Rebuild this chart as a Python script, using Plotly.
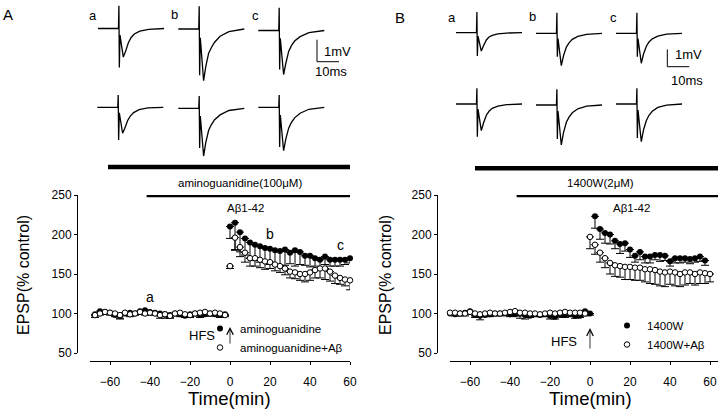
import plotly.graph_objects as go

W, H = 720, 410
FONT = "Liberation Sans, Arial, sans-serif"

# ---------------- Panel A data (aminoguanidine) ----------------
A_T_PRE = [-67.5, -65, -62.5, -60, -57.5, -55, -52.5, -50, -47.5, -45, -42.5, -40, -37.5, -35,
           -32.5, -30, -27.5, -25, -22.5, -20, -17.5, -15, -12.5, -10, -7.5, -5, -2.5]
A_T_POST = [0, 2.5, 5, 7.5, 10, 12.5, 15, 17.5, 20, 22.5, 25, 27.5, 30, 32.5, 35, 37.5, 40,
            42.5, 45, 47.5, 50, 52.5, 55, 57.5, 60]
A_FILLED_PRE = [99, 103, 102, 101, 98, 97, 100, 101, 100, 103, 104, 102, 101, 100, 99, 98, 100,
                99, 97, 99, 100, 98, 99, 100, 99, 98, 99]
A_FILLED_PRE_ERR = [2, 3, 2, 3, 2, 4, 2, 3, 2, 3, 2, 3, 2, 3, 2, 3, 2, 3, 2, 3, 2, 3, 2, 3, 2, 3, 2]
A_OPEN_PRE = [98, 100, 102, 101, 100, 98, 101, 99, 100, 102, 100, 101, 100, 98, 99, 97, 100,
              101, 99, 98, 100, 101, 102, 100, 101, 100, 98]
A_OPEN_PRE_ERR = [3, 2, 3, 2, 3, 4, 2, 3, 2, 3, 2, 3, 2, 4, 5, 3, 2, 3, 2, 3, 2, 4, 2, 3, 2, 3, 2]
A_FILLED_POST = [210, 215, 203, 195, 190, 187, 185, 183, 182, 180, 179, 181, 177, 180, 178, 173,
                 173, 170, 168, 172, 168, 168, 168, 168, 170]
A_FILLED_POST_ERR = [15, 35, 25, 21, 20, 20, 20, 18, 20, 18, 18, 20, 14, 20, 16, 12, 14, 10, 12,
                     10, 8, 8, 8, 6, 6]
A_OPEN_POST = [160, 196, 184, 177, 170, 170, 168, 166, 165, 162, 160, 157, 153, 152, 150, 150,
               152, 155, 157, 157, 153, 148, 145, 143, 142]
A_OPEN_POST_ERR = [3, 15, 12, 12, 10, 10, 10, 10, 8, 8, 8, 8, 8, 8, 8, 10, 10, 10, 12, 14, 12,
                   10, 8, 8, 12]

# ---------------- Panel B data (1400W) ----------------
B_T_FILLED_PRE = [-70, -67.5, -65, -62.5, -60, -57.5, -55, -52.5, -50, -47.5, -45, -42.5, -40,
                  -37.5, -35, -32.5, -30, -27.5, -25, -22.5, -20, -17.5, -15, -12.5, -10, -7.5,
                  -5, -2.5, 0]
B_T_OPEN_PRE = [-70, -67.5, -65, -62.5, -60, -57.5, -55, -52.5, -50, -47.5, -45, -42.5, -40,
                -37.5, -35, -32.5, -30, -27.5, -25, -22.5, -20, -17.5, -15, -12.5, -10, -7.5,
                -5, -2.5]
B_T_FILLED_POST = [2.5, 5, 7.5, 10, 12.5, 15, 17.5, 20, 22.5, 25, 27.5, 30, 32.5, 35, 37.5, 40,
                   42.5, 45, 47.5, 50, 52.5, 55, 57.5]
B_T_OPEN_POST = [0, 2.5, 5, 7.5, 10, 12.5, 15, 17.5, 20, 22.5, 25, 27.5, 30, 32.5, 35, 37.5, 40,
                 42.5, 45, 47.5, 50, 52.5, 55, 57.5, 60]
B_FILLED_PRE = [100, 99, 100, 101, 103, 98, 97, 98, 99, 100, 100, 100, 99, 99, 100, 98, 97, 99,
                98, 99, 97, 96, 98, 98, 99, 97, 97, 103, 100]
B_FILLED_PRE_ERR = [2, 2, 3, 2, 3, 3, 5, 2, 3, 2, 3, 2, 3, 2, 3, 5, 2, 3, 2, 3, 4, 3, 2, 3, 2,
                    3, 2, 3, 2]
B_OPEN_PRE = [101, 101, 100, 100, 102, 100, 99, 100, 101, 100, 100, 101, 102, 103, 101, 101,
              100, 100, 99, 100, 101, 100, 101, 102, 101, 101, 101, 100]
B_OPEN_PRE_ERR = [2, 3, 2, 3, 2, 3, 2, 3, 2, 3, 2, 3, 2, 4, 7, 3, 2, 3, 2, 3, 2, 3, 2, 3, 2, 3,
                  2, 3]
B_FILLED_POST = [223, 207, 202, 200, 192, 188, 189, 181, 173, 178, 172, 172, 174, 174, 173, 166,
                 170, 170, 170, 169, 170, 172, 167]
B_FILLED_POST_ERR = [15, 13, 13, 12, 10, 12, 10, 10, 8, 10, 8, 8, 6, 8, 6, 6, 6, 6, 5, 6, 5, 6, 6]
B_OPEN_POST = [197, 187, 177, 170, 164, 161, 160, 159, 159, 158, 158, 156, 156, 155, 153, 152,
               153, 152, 150, 152, 152, 150, 152, 151, 150]
B_OPEN_POST_ERR = [15, 12, 12, 12, 14, 14, 14, 16, 16, 16, 16, 16, 18, 18, 18, 18, 16, 17, 16,
                   16, 14, 14, 14, 13, 10]

# ---------------- example sweeps (ms, mV) ----------------
SWEEP_T = [0, 9.3, 9.5, 9.7, 10.0, 10.6, 11.5, 12.5, 13.8, 15.0, 16.5, 19.0, 23.0, 30.0]
A_SWEEP_a1 = [0, 0, 1.03, -1.77, -0.3, -0.8, -1.3, -1.05, -0.65, -0.42, -0.25, -0.12, -0.04, 0]
A_SWEEP_b1 = [0, 0, 1.03, -2.1, -0.4, -1.3, -2.35, -1.7, -1.1, -0.85, -0.6, -0.33, -0.12, 0]
A_SWEEP_c1 = [0, 0, 1.03, -1.77, -0.35, -1.1, -2.0, -1.5, -0.95, -0.7, -0.48, -0.28, -0.1, 0]
A_SWEEP_a2 = [0, 0, 0.56, -1.49, -0.25, -0.7, -1.18, -0.95, -0.6, -0.4, -0.24, -0.11, -0.03, 0]
A_SWEEP_b2 = [0, 0, 0.56, -1.8, -0.35, -1.2, -2.17, -1.55, -1.0, -0.75, -0.52, -0.3, -0.1, 0]
A_SWEEP_c2 = [0, 0, 0.56, -1.8, -0.35, -1.1, -1.97, -1.45, -0.95, -0.7, -0.48, -0.27, -0.09, 0]
B_SWEEP_a1 = [0, 0, 1.19, -1.35, -0.2, -0.6, -1.06, -0.75, -0.42, -0.25, -0.15, -0.07, -0.02, 0]
B_SWEEP_b1 = [0, 0, 1.19, -1.35, -0.3, -1.1, -1.87, -1.3, -0.8, -0.55, -0.35, -0.18, -0.06, 0]
B_SWEEP_c1 = [0, 0, 1.19, -1.35, -0.3, -1.0, -1.73, -1.2, -0.75, -0.5, -0.32, -0.16, -0.05, 0]
B_SWEEP_a2 = [0, 0, 0.91, -1.89, -0.3, -0.9, -1.54, -1.1, -0.65, -0.42, -0.25, -0.12, -0.04, 0]
B_SWEEP_b2 = [0, 0, 0.91, -1.96, -0.35, -1.3, -2.31, -1.6, -1.0, -0.7, -0.45, -0.22, -0.07, 0]
B_SWEEP_c2 = [0, 0, 0.91, -1.96, -0.35, -1.2, -2.18, -1.5, -0.95, -0.65, -0.42, -0.2, -0.06, 0]

# drug application periods (min)
A_DRUG_TOP = [-61, 61]
A_DRUG_PLOT = [-41.7, 60]
B_DRUG_TOP = [-57.5, 64]
B_DRUG_PLOT = [-36.7, 64]

Y_TICKS = [50, 100, 150, 200, 250]
X_TICKS = [-60, -40, -20, 0, 20, 40, 60]

# ---------------- layout helpers (pixel -> paper) ----------------
def PX(px):
    return px / W

def PY(py):
    return 1 - py / H

MS_PX = 2.2          # px per ms for sweeps
MV_PX_A = 22.0       # px per mV (panel A sweeps)
MV_PX_B = 17.3       # px per mV (panel B sweeps)

fig = go.Figure()

marker_f = dict(symbol="circle", size=6, color="black", line=dict(width=0))
marker_o = dict(symbol="circle", size=5.5, color="white", line=dict(width=1, color="black"))


def err(minus):
    return dict(type="data", symmetric=False, array=[0] * len(minus), arrayminus=minus,
                color="black", thickness=1, width=4)


# Panel A series
fig.add_trace(go.Scatter(x=A_T_PRE + A_T_POST, y=A_FILLED_PRE + A_FILLED_POST, mode="markers",
                         marker=marker_f, error_y=err(A_FILLED_PRE_ERR + A_FILLED_POST_ERR),
                         xaxis="x", yaxis="y", name="aminoguanidine", legend="legend",
                         cliponaxis=False))
fig.add_trace(go.Scatter(x=A_T_PRE + A_T_POST, y=A_OPEN_PRE + A_OPEN_POST, mode="markers",
                         marker=marker_o, error_y=err(A_OPEN_PRE_ERR + A_OPEN_POST_ERR),
                         xaxis="x", yaxis="y", name="aminoguanidine+Aβ", legend="legend",
                         cliponaxis=False))
# Panel B series
fig.add_trace(go.Scatter(x=B_T_FILLED_PRE + B_T_FILLED_POST, y=B_FILLED_PRE + B_FILLED_POST,
                         mode="markers", marker=marker_f,
                         error_y=err(B_FILLED_PRE_ERR + B_FILLED_POST_ERR),
                         xaxis="x2", yaxis="y2", name="1400W", legend="legend2",
                         cliponaxis=False))
fig.add_trace(go.Scatter(x=B_T_OPEN_PRE + B_T_OPEN_POST, y=B_OPEN_PRE + B_OPEN_POST,
                         mode="markers", marker=marker_o,
                         error_y=err(B_OPEN_PRE_ERR + B_OPEN_POST_ERR),
                         xaxis="x2", yaxis="y2", name="1400W+Aβ", legend="legend2",
                         cliponaxis=False))

# sweeps
sweeps = [
    (A_SWEEP_a1, 98, 28.5, "y3", MV_PX_A), (A_SWEEP_b1, 178.3, 29, "y3", MV_PX_A),
    (A_SWEEP_c1, 258.3, 30.5, "y3", MV_PX_A),
    (A_SWEEP_a2, 97.3, 107.3, "y3", MV_PX_A), (A_SWEEP_b2, 178.3, 108.3, "y3", MV_PX_A),
    (A_SWEEP_c2, 258.3, 107.3, "y3", MV_PX_A),
    (B_SWEEP_a1, 456, 32.7, "y4", MV_PX_B), (B_SWEEP_b1, 536, 33.3, "y4", MV_PX_B),
    (B_SWEEP_c1, 616, 33.3, "y4", MV_PX_B),
    (B_SWEEP_a2, 456, 104, "y4", MV_PX_B), (B_SWEEP_b2, 536, 105, "y4", MV_PX_B),
    (B_SWEEP_c2, 616, 104, "y4", MV_PX_B),
]
for vals, x0px, basepx, yax, mvpx in sweeps:
    fig.add_trace(go.Scatter(x=[x0px / MS_PX + t for t in SWEEP_T],
                             y=[-basepx / mvpx + v for v in vals],
                             mode="lines", line=dict(color="black", width=1.3),
                             xaxis="x3", yaxis=yax, showlegend=False, hoverinfo="skip"))

# scale bars (1 mV, 10 ms)
for x0px, basepx, yax, mvpx in [(317, 61.7, "y3", MV_PX_A), (667.3, 66.7, "y4", MV_PX_B)]:
    xs = x0px / MS_PX
    yb = -basepx / mvpx
    fig.add_trace(go.Scatter(x=[xs, xs, xs + 10], y=[yb + 1, yb, yb], mode="lines",
                             line=dict(color="black", width=1), xaxis="x3", yaxis=yax,
                             showlegend=False, hoverinfo="skip"))

axis_common = dict(showline=True, linecolor="black", linewidth=1, ticks="outside", ticklen=3,
                   tickcolor="black", showgrid=False, zeroline=False, automargin=False,
                   tickfont=dict(family=FONT, size=12, color="black"))

ydom = [PY(353), PY(195)]
fig.update_layout(
    width=W, height=H, margin=dict(l=0, r=0, t=0, b=0, pad=0, autoexpand=False),
    autosize=False,
    paper_bgcolor="white", plot_bgcolor="rgba(0,0,0,0)",
    font=dict(family=FONT, color="black"),
    xaxis=dict(domain=[PX(90), PX(350)], range=[-70, 60], anchor="free", position=PY(361),
               tickvals=X_TICKS, ticklabelstandoff=7, **axis_common),
    yaxis=dict(domain=ydom, range=[50, 250], anchor="free", position=PX(77),
               tickvals=Y_TICKS, **axis_common),
    xaxis2=dict(domain=[PX(450), PX(718)], range=[-70, 64], anchor="free", position=PY(361),
                tickvals=X_TICKS, ticklabelstandoff=7, **axis_common),
    yaxis2=dict(domain=ydom, range=[50, 250], anchor="free", position=PX(437),
                tickvals=Y_TICKS, **axis_common),
    xaxis3=dict(domain=[0, 1], range=[0, W / MS_PX], visible=False, anchor="y3"),
    yaxis3=dict(domain=[0, 1], range=[-H / MV_PX_A, 0], visible=False, anchor="x3"),
    yaxis4=dict(domain=[0, 1], range=[-H / MV_PX_B, 0], visible=False, anchor="x3"),
    legend=dict(x=PX(200), y=PY(314), xanchor="left", yanchor="top", bgcolor="rgba(0,0,0,0)",
                font=dict(family=FONT, size=11.5, color="black"), tracegroupgap=0),
    legend2=dict(x=PX(607), y=PY(311), xanchor="left", yanchor="top", bgcolor="rgba(0,0,0,0)",
                 font=dict(family=FONT, size=11.5, color="black"), tracegroupgap=0),
    showlegend=True,
)

# drug bars
shapes = []
for xr, rng, ypx in [("x", A_DRUG_TOP, 167), ("x2", B_DRUG_TOP, 168.3)]:
    shapes.append(dict(type="line", xref=xr, yref="paper", x0=rng[0], x1=rng[1],
                       y0=PY(ypx), y1=PY(ypx), line=dict(color="black", width=4.5)))
for xr, yr, rng in [("x", "y", A_DRUG_PLOT), ("x2", "y2", B_DRUG_PLOT)]:
    shapes.append(dict(type="line", xref=xr, yref=yr, x0=rng[0], x1=rng[1], y0=250, y1=250,
                       line=dict(color="black", width=4.5)))
fig.update_layout(shapes=shapes)

ann = []


def txt(text, xpx, ypx, size, xanchor="center", angle=0):
    ann.append(dict(text=text, x=PX(xpx), y=PY(ypx), xref="paper", yref="paper",
                    showarrow=False, xanchor=xanchor, yanchor="middle", textangle=angle,
                    font=dict(family=FONT, size=size, color="black")))


txt("A", 8, 14, 15)
txt("B", 400, 17, 15)
for lbl, xa, ya in [("a", 93, 15), ("b", 174, 14), ("c", 255, 15),
                    ("a", 452, 17), ("b", 532, 16), ("c", 613, 17)]:
    txt(lbl, xa, ya, 13)
txt("1mV", 322, 51, 13, "left")
txt("10ms", 331, 71.5, 13)
txt("1mV", 673, 54.5, 13, "left")
txt("10ms", 686.5, 80.5, 13)
txt("aminoguanidine(100μM)", 239.5, 183.5, 11.5)
txt("1400W(2μM)", 600, 183.5, 11.5)
txt("Aβ1-42", 245, 208, 11.5)
txt("Aβ1-42", 631, 208, 11.5)
txt("a", 150, 297, 14)
txt("b", 270, 234, 14)
txt("c", 340, 245, 14)
txt("HFS", 217, 335, 13, "right")
txt("HFS", 579, 341, 13, "right")
txt("EPSP(% control)", 23, 275, 16, angle=-90)
txt("EPSP(% control)", 385, 275, 16, angle=-90)
txt("Time(min)", 230, 398.5, 18.5)
txt("Time(min)", 590, 398.5, 18.5)

# HFS arrows
for xr, yr, tip, tail in [("x", "y", 83, 60), ("x2", "y2", 81.6, 53.8)]:
    ann.append(dict(x=0, y=tip, ax=0, ay=tail, xref=xr, yref=yr, axref=xr, ayref=yr,
                    showarrow=True, arrowhead=5, arrowsize=1.6, arrowwidth=0.8,
                    arrowcolor="black", text="", standoff=0))

fig.update_layout(annotations=ann)
# the page's default 8px body margin would push the 720x410 figure off the window
fig.write_html("out.html", config={"displayModeBar": False},
               post_script="document.body.style.margin='0px';")
